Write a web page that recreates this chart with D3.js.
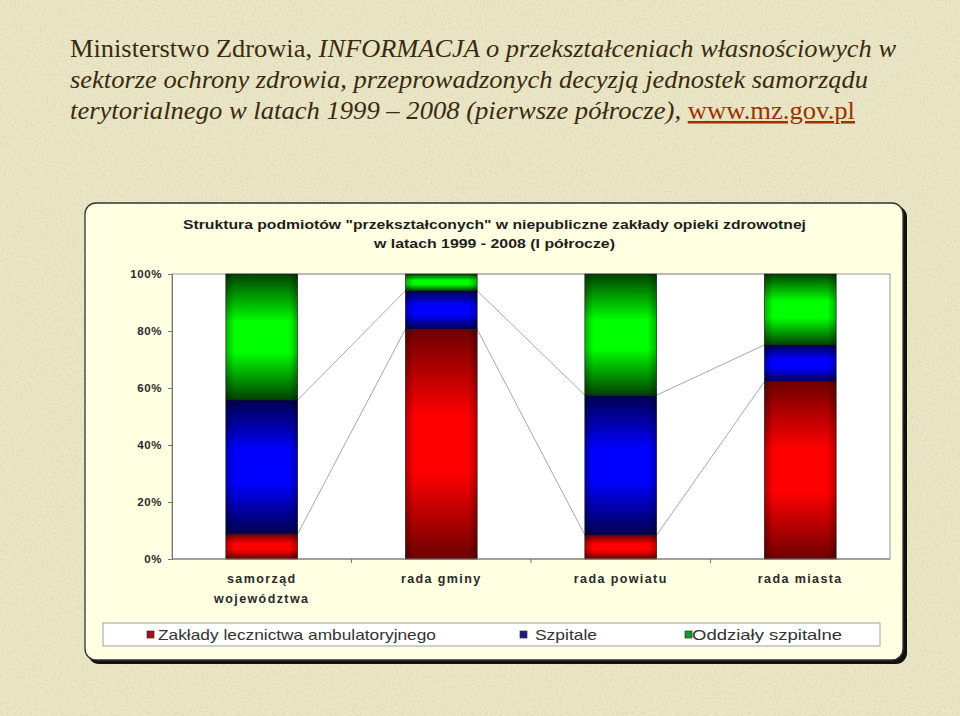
<!DOCTYPE html>
<html><head><meta charset="utf-8">
<script src="https://cdn.jsdelivr.net/npm/d3@7"></script>
<style>
html,body{margin:0;padding:0;background:#ebe7c6;}
svg{display:block;}
</style></head>
<body>
<script>
// ---- data ----
const categories = [["samorząd","województwa"],["rada gminy"],["rada powiatu"],["rada miasta"]];
const seriesNames = ["Zakłady lecznictwa ambulatoryjnego","Szpitale","Oddziały szpitalne"];
const ambulatory = [8.8, 80.6, 8.4, 62.2];
const hospitals  = [47.0, 13.5, 49.1, 12.9];
const wards      = [44.2, 5.9, 42.5, 24.9];
const yTicks = [0,20,40,60,80,100];
const pageTitleLines = [
  [{t:"Ministerstwo Zdrowia, ",i:false},{t:"INFORMACJA o przekształceniach własnościowych w",i:true}],
  [{t:"sektorze ochrony zdrowia, przeprowadzonych decyzją jednostek samorządu",i:true}],
  [{t:"terytorialnego w latach 1999 – 2008 (pierwsze półrocze), ",i:true},{t:"www.mz.gov.pl",i:false,link:true}]
];
const chartTitle = ["Struktura podmiotów \"przekształconych\" w niepubliczne zakłady opieki zdrowotnej",
                    "w latach 1999 - 2008 (I półrocze)"];

// ---- layout ----
const W=960,H=716;
const plot={x:172,y:274,w:718,h:285};
const colors=[
  {dark:"#6e0000",bright:"#ff0000",legend:"#a8101c"},
  {dark:"#00004e",bright:"#0000ff",legend:"#1c1c86"},
  {dark:"#004200",bright:"#00ff00",legend:"#129a2c"}
];

const svg=d3.select("body").append("svg").attr("width",W).attr("height",H);
const defs=svg.append("defs");

// paper texture
const f=defs.append("filter").attr("id","paper").attr("x",0).attr("y",0).attr("width","100%").attr("height","100%");
f.append("feTurbulence").attr("type","fractalNoise").attr("baseFrequency",0.55).attr("numOctaves",3).attr("seed",4).attr("result","n");
f.append("feColorMatrix").attr("in","n").attr("type","matrix")
 .attr("values","0 0 0 0 0.35  0 0 0 0 0.32  0 0 0 0 0.2  0 0 0 -1.1 0.62");
svg.append("rect").attr("width",W).attr("height",H).attr("fill","#ebe7c6");
svg.append("rect").attr("width",W).attr("height",H).attr("filter","url(#paper)").attr("opacity",0.45);

// page title
const tl=[{y:57,len:826},{y:88,len:798},{y:119,len:785}];
pageTitleLines.forEach((line,li)=>{
  const t=svg.append("text").attr("x",70).attr("y",tl[li].y)
    .attr("font-family","'Liberation Serif','Times New Roman',serif").attr("font-size",25)
    .attr("fill","#3b2a12").attr("textLength",tl[li].len).attr("lengthAdjust","spacingAndGlyphs");
  line.forEach(p=>{
    const s=t.append("tspan").text(p.t).attr("font-style",p.i?"italic":"normal");
    if(p.link) s.attr("fill","#9a3300").attr("text-decoration","underline");
  });
});

// chart frame
svg.append("rect").attr("x",88).attr("y",206).attr("width",819).attr("height",458).attr("rx",11).attr("fill","#111");
svg.append("rect").attr("x",85).attr("y",203).attr("width",818).attr("height",457).attr("rx",11)
  .attr("fill","#ffffe1").attr("stroke","#333").attr("stroke-width",1.3);

// chart title
const ct=[{y:229,len:623},{y:248,len:241}];
chartTitle.forEach((s,i)=>{
  svg.append("text").attr("x",494.5).attr("y",ct[i].y).attr("text-anchor","middle")
   .attr("font-family","'Liberation Sans',Arial,sans-serif").attr("font-weight","bold").attr("font-size",13.5)
   .attr("fill","#1e1e1e").attr("textLength",ct[i].len).attr("lengthAdjust","spacingAndGlyphs").text(s);
});

// scales
const x=d3.scaleBand().domain(d3.range(categories.length)).range([plot.x,plot.x+plot.w]).paddingInner(0.6).paddingOuter(0.3);
const xOuter=d3.scaleBand().domain(d3.range(categories.length)).range([plot.x,plot.x+plot.w]);
const y=d3.scaleLinear().domain([0,100]).range([plot.y+plot.h,plot.y]);

// plot area
svg.append("rect").attr("x",plot.x).attr("y",plot.y).attr("width",plot.w).attr("height",plot.h)
  .attr("fill","#fff").attr("stroke","#9a9a9a").attr("stroke-width",1);

// gradients
colors.forEach((c,i)=>{
  const g=defs.append("linearGradient").attr("id","g"+i).attr("x1",0).attr("y1",0).attr("x2",0).attr("y2",1);
  [[0,c.dark],[0.38,c.bright],[0.62,c.bright],[1,c.dark]].forEach(s=>g.append("stop").attr("offset",s[0]).attr("stop-color",s[1]));
});
const hg=defs.append("linearGradient").attr("id","hshade").attr("x1",0).attr("y1",0).attr("x2",1).attr("y2",0);
[[0,0.3],[0.12,0],[0.88,0],[1,0.3]].forEach(s=>hg.append("stop").attr("offset",s[0]).attr("stop-color","#000").attr("stop-opacity",s[1]));

// stack
const table=categories.map((c,i)=>({i,a:ambulatory[i],h:hospitals[i],w:wards[i]}));
const stack=d3.stack().keys(["a","h","w"])(table);

// series lines
const lineG=svg.append("g").attr("stroke","#a8a8a8").attr("stroke-width",1).attr("fill","none");
stack.forEach(layer=>{
  for(let i=0;i<layer.length-1;i++){
    lineG.append("line")
      .attr("x1",x(i)+x.bandwidth()).attr("y1",y(layer[i][1]))
      .attr("x2",x(i+1)).attr("y2",y(layer[i+1][1]));
  }
});

// bars
stack.forEach((layer,k)=>{
  const g=svg.append("g");
  g.selectAll("rect.b").data(layer).join("rect").attr("class","b")
    .attr("x",(d,i)=>x(i)).attr("width",x.bandwidth())
    .attr("y",d=>y(d[1])).attr("height",d=>y(d[0])-y(d[1]))
    .attr("fill","url(#g"+k+")");
  g.selectAll("rect.s").data(layer).join("rect").attr("class","s")
    .attr("x",(d,i)=>x(i)).attr("width",x.bandwidth())
    .attr("y",d=>y(d[1])).attr("height",d=>y(d[0])-y(d[1]))
    .attr("fill","url(#hshade)").attr("stroke","#1a1a1a").attr("stroke-width",0.6);
});

// axes
const yAxis=d3.axisLeft(y).tickValues(yTicks).tickFormat(d=>d+"%").tickSize(4).tickPadding(6);
const ya=svg.append("g").attr("transform",`translate(${plot.x},0)`).call(yAxis);
ya.select(".domain").attr("stroke","#777");
ya.selectAll(".tick line").attr("stroke","#777");
ya.selectAll("text").attr("font-family","'Liberation Sans',Arial,sans-serif").attr("font-weight","bold")
  .attr("font-size",11.5).attr("letter-spacing",0.6).attr("fill","#2a2a2a");

const xa=svg.append("g").attr("transform",`translate(0,${plot.y+plot.h})`);
xa.append("line").attr("x1",plot.x).attr("x2",plot.x+plot.w).attr("stroke","#777");
d3.range(1,categories.length).forEach(i=>{
  xa.append("line").attr("x1",xOuter(i)).attr("x2",xOuter(i)).attr("y1",0).attr("y2",4).attr("stroke","#777");
});
categories.forEach((c,i)=>{
  c.forEach((s,j)=>{
    xa.append("text").attr("x",xOuter(i)+xOuter.bandwidth()/2).attr("y",24+j*20).attr("text-anchor","middle")
      .attr("font-family","'Liberation Sans',Arial,sans-serif").attr("font-weight","bold").attr("font-size",12.5)
      .attr("letter-spacing",1.4).attr("fill","#2a2a2a").text(s);
  });
});

// legend
svg.append("rect").attr("x",103).attr("y",623).attr("width",777).attr("height",23).attr("fill","#fff").attr("stroke","#a0a0a0");
const legX=[{m:147,t:158,len:278},{m:520,t:535,len:62},{m:685,t:692,len:150}];
seriesNames.forEach((n,i)=>{
  svg.append("rect").attr("x",legX[i].m).attr("y",631).attr("width",7).attr("height",7)
    .attr("fill",colors[i].legend).attr("stroke","#333").attr("stroke-width",0.7);
  svg.append("text").attr("x",legX[i].t).attr("y",640)
    .attr("font-family","'Liberation Sans',Arial,sans-serif").attr("font-size",15).attr("fill","#333")
    .attr("textLength",legX[i].len).attr("lengthAdjust","spacingAndGlyphs").text(n);
});
</script>
</body></html>
